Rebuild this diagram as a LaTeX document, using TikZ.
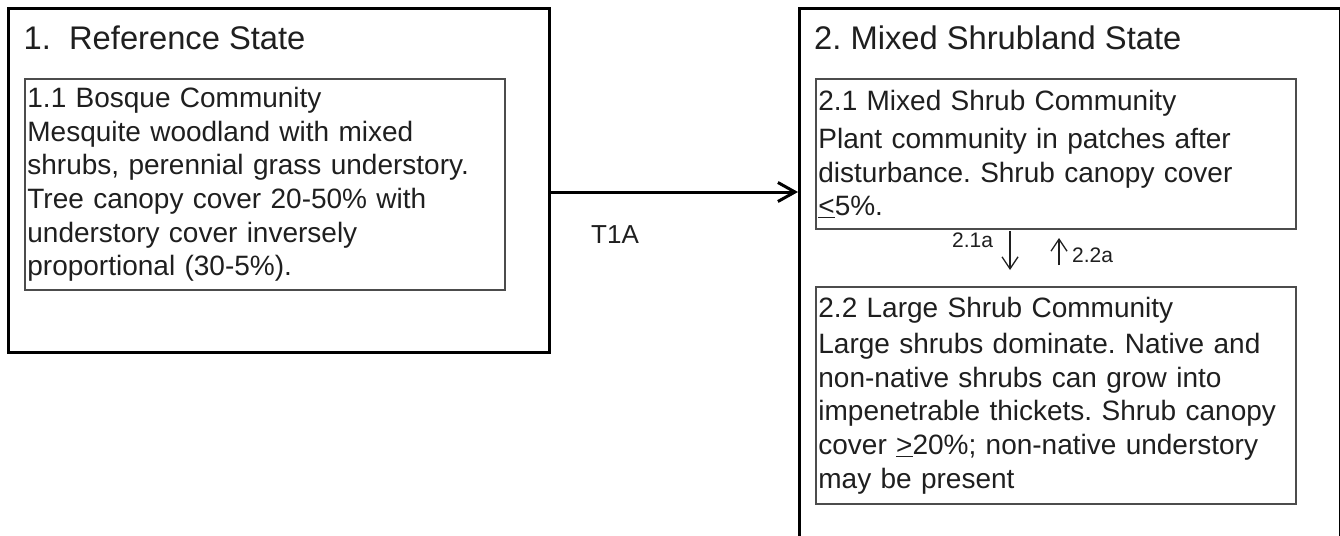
\documentclass[tikz,border=0pt]{standalone}
\usepackage{fontspec}
\setmainfont{Liberation Sans}
\usetikzlibrary{arrows.meta}
\frenchspacing
\definecolor{ink}{gray}{0.12}
\newcommand{\bodyfont}{\fontsize{28}{33.6}\selectfont}

\begin{document}
\begin{tikzpicture}[x=1pt,y=-1pt]
        \tikzstyle{every node} = [inner sep=0pt, text=ink];
        \tikzstyle{statebox} = [draw=black, line width=3pt, rectangle, anchor=north west]
        \tikzstyle{statetitle} = [anchor=base west, font=\fontsize{32.7}{38}\selectfont]
        \tikzstyle{community} = [draw=black!70, line width=1.8pt, rectangle, anchor=north west, inner xsep=2.5pt, text width=475pt, align=left, font=\bodyfont]
        \tikzstyle{pathtag} = [anchor=base west, font=\fontsize{21}{25}\selectfont]
        \tikzstyle{transition} = [line width=3pt, -{Straight Barb[length=17pt,width=19pt]}]
        \tikzstyle{phasearrow} = [draw=ink, line width=1.3pt, -{Straight Barb[length=12pt,width=16pt]}]
        \fill[white] (0,0) rectangle (1340,535);
        \clip (0,0) rectangle (1340,535);
        \node[statebox, minimum width=541pt, minimum height=344pt] (refstate) at (7,7) {};
        \node[statebox, minimum width=540.5pt, minimum height=600pt] (shrubstate) at (798,7) {};
        \node[statetitle] (reftitle) at (23.5,49) {1.\ \ Reference State};
        \node[statetitle] (shrubtitle) at (814,49) {2.\ Mixed Shrubland State};
        \node[community, minimum height=211pt] (bosque) at (24,78) {1.1 Bosque Community\\
                Mesquite woodland with mixed\\
                shrubs, perennial grass understory.\\
                Tree canopy cover 20-50\% with\\
                understory cover inversely\\
                proportional (30-5\%).};
        \node[community, minimum height=150pt] (mixedshrub) at (815,78) {2.1 Mixed Shrub Community\\[5pt]
                Plant community in patches after\\
                disturbance. Shrub canopy cover\\
                \underline{<}5\%.};
        \node[community, minimum height=217pt] (largeshrub) at (815,286) {2.2 Large Shrub Community\\[3pt]
                Large shrubs dominate. Native and\\
                non-native shrubs can grow into\\
                impenetrable thickets. Shrub canopy\\
                cover \underline{>}20\%; non-native understory\\
                may be present};
        \coordinate (arrowrow) at (0,192);
        \draw[transition] (refstate.east |- arrowrow) -- (shrubstate.west |- arrowrow);
        \node[anchor=base west, font=\fontsize{26}{30}\selectfont] (t1a) at (591,243) {T1A};
        \coordinate (downtail) at (1010,231);
        \coordinate (downtip) at (1010,270);
        \coordinate (uptail) at (1059,265);
        \coordinate (uptip) at (1059,238);
        \draw[phasearrow] (downtail) -- (downtip);
        \draw[phasearrow] (uptail) -- (uptip);
        \node[pathtag] (tag21a) at (952,247) {2.1a};
        \node[pathtag] (tag22a) at (1072,262) {2.2a};
\end{tikzpicture}
\end{document}
